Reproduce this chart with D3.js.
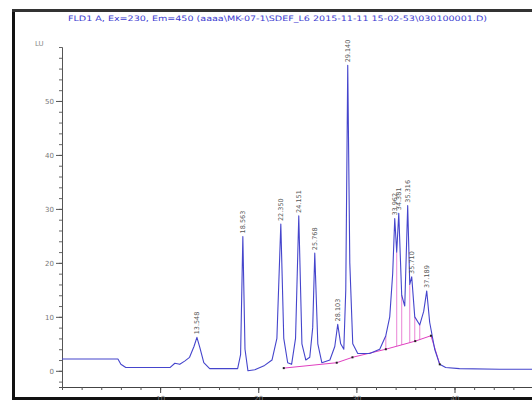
<!DOCTYPE html>
<html><head><meta charset="utf-8">
<script src="https://cdn.jsdelivr.net/npm/d3@7"></script>
<style>body{margin:0;background:#fff}svg{display:block}</style>
</head><body>
<svg id="c" width="532" height="400"></svg>
<script>
const titleText = "FLD1 A, Ex=230, Em=450 (aaaa\\MK-07-1\\SDEF_L6 2015-11-11 15-02-53\\030100001.D)";
const yUnit = "LU";
const yTicks = [0, 10, 20, 30, 40, 50];
const xTicks = [10, 20, 30, 40];
// chromatogram trace: [time (min), signal (LU)]
const traceTime = [0,5.7,6.0,6.5,11.0,11.5,12.0,12.5,13.0,13.45,13.75,14.05,14.45,15.05,17.9,18.2,18.43,18.65,18.95,19.65,20.65,21.4,21.9,22.3,22.6,23.0,23.4,23.8,24.13,24.45,24.85,25.25,25.55,25.76,26.07,26.48,27.3,27.8,28.1,28.4,28.72,28.92,29.12,29.33,29.63,30.14,31.36,32.38,33.0,33.4,33.7,33.91,34.11,34.32,34.62,34.93,35.23,35.44,35.64,35.95,36.46,36.86,37.17,37.47,37.98,38.49,39.1,40.5,44.6,48];
const traceValue = [2.2,2.2,1.2,0.6,0.6,1.4,1.2,1.8,2.5,4.5,6.2,4.3,1.5,0.4,0.4,3.0,24.9,4.0,0.0,0.2,1.0,2.0,6.0,27.2,6.0,1.5,1.2,6.0,28.7,5.0,2.0,2.5,8.0,21.8,5.0,1.5,2.0,4.5,8.6,5.0,4.0,15.0,56.6,20.0,5.0,3.2,3.2,4.0,6.5,10.0,18.0,28.2,22.0,29.2,14.0,12.0,30.6,16.0,17.4,10.0,8.5,11.0,14.8,9.0,4.0,1.2,0.6,0.4,0.3,0.3];
// integrated peaks: retention time label and apex
const peakTime = [13.75,18.43,22.3,24.13,25.76,28.1,29.12,33.91,34.32,35.23,35.64,37.17];
const peakValue = [6.2,24.9,27.2,28.7,21.8,8.6,56.6,28.2,29.2,30.6,17.4,14.8];
const peakLabel = ["13.548","18.563","22.350","24.151","25.768","28.103","29.140","33.962","34.381","35.316","35.710","37.189"];
// integration baseline (magenta)
const baseTime = [22.6,28.0,29.6,33.0,36.0,37.6,38.5];
const baseValue = [0.5,1.5,2.5,4.0,5.5,6.5,1.2];
const dropTime = [33.0,34.11,34.62,35.44,35.95,36.46,37.98];

const svg = d3.select("#c");
const x = d3.scaleLinear().domain([0, 48]).range([62, 533]);
const y = d3.scaleLinear().domain([-3, 60]).range([387, 47]);

// frame
svg.append("rect").attr("x",12).attr("y",9).attr("width",3).attr("height",391).attr("fill","#111");
svg.append("rect").attr("x",12).attr("y",9).attr("width",520).attr("height",3).attr("fill","#333");
svg.append("rect").attr("x",12).attr("y",397).attr("width",520).attr("height",3).attr("fill","#111");

// title
svg.append("text").attr("x",68).attr("y",21).attr("font-family","DejaVu Sans").attr("font-size",7.5)
  .attr("fill","#3b3bd0").attr("textLength",419).attr("lengthAdjust","spacingAndGlyphs").text(titleText);

// axes
const yAxis = d3.axisLeft(y).tickValues(d3.range(-2, 61, 2)).tickSize(3).tickFormat("");
svg.append("g").attr("transform","translate(62,0)").call(yAxis)
  .call(g=>{g.select(".domain").attr("stroke","#555");g.selectAll("line").attr("stroke","#666");});
svg.append("g").attr("transform","translate(62,0)").call(d3.axisLeft(y).tickValues(yTicks).tickSize(6).tickPadding(2))
  .call(g=>{g.select(".domain").remove();g.selectAll("line").attr("stroke","#555");
    g.selectAll("text").attr("font-family","DejaVu Sans").attr("font-size",7).attr("fill","#777");});
svg.append("text").attr("x",35).attr("y",46).attr("font-family","DejaVu Sans").attr("font-size",7).attr("fill","#888").text(yUnit);

const xAxisY = y(-3);
svg.append("g").attr("transform",`translate(0,${xAxisY})`).call(d3.axisBottom(x).tickValues(d3.range(0,49,2)).tickSize(3).tickFormat(""))
  .call(g=>{g.select(".domain").attr("stroke","#444");g.selectAll("line").attr("stroke","#555");});
svg.append("g").attr("transform",`translate(0,${xAxisY})`).call(d3.axisBottom(x).tickValues(xTicks).tickSize(6).tickPadding(3))
  .call(g=>{g.select(".domain").remove();g.selectAll("line").attr("stroke","#444");
    g.selectAll("text").attr("font-family","DejaVu Sans").attr("font-size",7).attr("fill","#777");});

// integration baseline
const basePts = baseTime.map((t,i)=>[t, baseValue[i]]);
const line = d3.line().x(d=>x(d[0])).y(d=>y(d[1]));
const traceInterp = t => {
  for (let i=1;i<traceTime.length;i++) if (traceTime[i]>=t) {
    const f=(t-traceTime[i-1])/(traceTime[i]-traceTime[i-1]);
    return traceValue[i-1]+f*(traceValue[i]-traceValue[i-1]);
  }
  return traceValue[traceValue.length-1];
};
const baseInterp = t => {
  for (let i=1;i<baseTime.length;i++) if (baseTime[i]>=t) {
    const f=(t-baseTime[i-1])/(baseTime[i]-baseTime[i-1]);
    return baseValue[i-1]+f*(baseValue[i]-baseValue[i-1]);
  }
  return baseValue[baseValue.length-1];
};
svg.append("g").selectAll("line").data(dropTime).join("line")
  .attr("x1",d=>x(d)).attr("x2",d=>x(d)).attr("y1",d=>y(baseInterp(d))).attr("y2",d=>y(traceInterp(d)))
  .attr("stroke","#e040c0").attr("stroke-width",0.8).attr("opacity",0.8);
svg.append("path").attr("d",line(basePts)).attr("fill","none").attr("stroke","#e040c0").attr("stroke-width",1);

// trace
const tracePts = traceTime.map((t,i)=>[t, traceValue[i]]);
svg.append("path").attr("d",line(tracePts)).attr("fill","none").attr("stroke","#4545cc").attr("stroke-width",1.1).attr("stroke-linejoin","round");

// baseline markers
svg.append("g").selectAll("rect").data(baseTime).join("rect")
  .attr("x",d=>x(d)-1).attr("y",d=>y(baseInterp(d))-1).attr("width",2).attr("height",2).attr("fill","#222");

// peak labels
svg.append("g").selectAll("text").data(peakTime).join("text")
  .attr("transform",(d,i)=>`translate(${x(d)+2.5},${y(peakValue[i])-3}) rotate(-90)`)
  .attr("font-family","DejaVu Sans").attr("font-size",6.5).attr("fill","#555")
  .text((d,i)=>peakLabel[i]);
</script>
</body></html>
